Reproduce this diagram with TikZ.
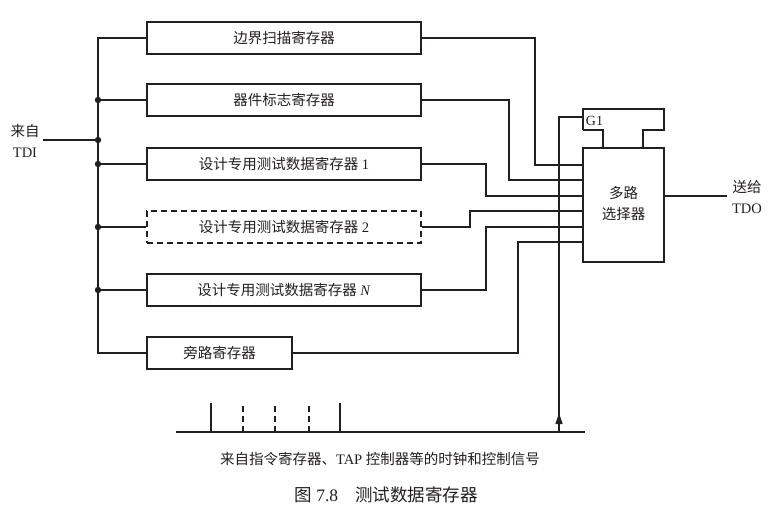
\documentclass[tikz,border=0pt]{standalone}
\usepackage{fontspec}
\setmainfont{Liberation Serif}
\newfontfamily\cjk{Noto Sans CJK SC}
\usetikzlibrary{arrows.meta}
\begin{document}
\begin{tikzpicture}[x=1pt,y=-1pt, line width=1.2pt, color={rgb,255:red,35;green,31;blue,32},
  reg/.style={draw, minimum height=32pt, inner sep=0pt, font=\fontsize{14.5}{17}\selectfont},
  lbl/.style={align=center, inner sep=0pt, font=\fontsize{14.5}{21}\selectfont},
  wire/.style={line width=1.2pt},
  junction/.style={fill}]
\useasboundingbox (0,0) rectangle (773,518);
% registers
\node[reg, minimum width=274pt] (b1) at (284,38) {\cjk 边界扫描寄存器};
\node[reg, minimum width=274pt] (b2) at (284,100) {\cjk 器件标志寄存器};
\node[reg, minimum width=274pt] (b3) at (284,164) {{\cjk 设计专用测试数据寄存器} 1};
\node[reg, minimum width=274pt, dash pattern=on 6pt off 4pt] (b4) at (284,227) {{\cjk 设计专用测试数据寄存器} 2};
\node[reg, minimum width=274pt] (b5) at (284,290) {{\cjk 设计专用测试数据寄存器} \textit{N}};
\node[reg, minimum width=145pt] (b6) at (219.5,353) {\cjk 旁路寄存器};
% TDI bus
\coordinate (bus) at (98,0);
\node[lbl] (tdi) at (25,141) {{\cjk 来自}\\TDI};
\draw[wire] (b1.west) -- (b1.west -| bus) -- (b6.west -| bus) -- (b6.west);
\draw[wire] ([xshift=3pt]tdi.east |- 0,140) -- (bus |- 0,140);
\foreach \b in {b2,b3,b4,b5}{
  \draw[wire] (\b.west) -- (\b.west -| bus);
  \fill[junction] (\b.west -| bus) circle (3.2pt);
}
\fill[junction] (bus |- 0,140) circle (3.2pt);
% multiplexer
\node[draw, minimum width=81pt, minimum height=114pt, inner sep=0pt] (mux) at (623.5,205) {};
\node[lbl] (muxtxt) at (623.5,203) {\cjk 多路\\\cjk 选择器};
\draw[wire] (583,130) -- (583,109) -- (664,109) -- (664,130) -- (643,130) -- (mux.north -| 643,0);
\draw[wire] (583,130) -- (603,130) -- (mux.north -| 603,0);
\node[inner sep=0pt, font=\fontsize{14}{16}\selectfont] (g1) at (594.5,121) {G1};
% mux inputs
\coordinate (in1) at (583,165);
\coordinate (in2) at (583,180);
\coordinate (in3) at (583,196);
\coordinate (in4) at (583,211);
\coordinate (in5) at (583,227);
\coordinate (in6) at (583,242);
\draw[wire] (b1.east) -- (535,38) |- (in1);
\draw[wire] (b2.east) -- (509,100) |- (in2);
\draw[wire] (b3.east) -- (486,164) |- (in3);
\draw[wire] (b4.east) -- (470,227) |- (in4);
\draw[wire] (b5.east) -- (486,290) |- (in5);
\draw[wire] (b6.east) -- (518,353) |- (in6);
% output
\coordinate (out) at (664,196);
\node[lbl] (tdo) at (747,197) {{\cjk 送给}\\TDO};
\draw[wire] (out) -- (727,196);
% control bus
\coordinate (cb1) at (176,432);
\coordinate (cb2) at (585,432);
\draw[line width=2pt] (cb1) -- (cb2);
\coordinate (g1in) at (583,117);
\coordinate (ctl) at (559,432);
\draw[wire] (ctl) -- (ctl |- g1in) -- (g1in);
\draw[wire, -{Triangle[length=11pt,width=7pt]}] (ctl) -- (559,413);
\foreach \x in {211,340}{ \draw[wire] (\x,432) -- (\x,403); }
\foreach \x in {243,275,309}{ \draw[wire, dash pattern=on 6pt off 4pt] (\x,432) -- (\x,403); }
\node[inner sep=0pt, font=\fontsize{14.5}{17}\selectfont] (ctltxt) at (380,459) {{\cjk 来自指令寄存器、}TAP {\cjk 控制器等的时钟和控制信号}};
\node[inner sep=0pt, font=\fontsize{17.5}{20}\selectfont] (cap) at (386,495) {{\cjk 图} 7.8\hspace{17pt}{\cjk 测试数据寄存器}};
\end{tikzpicture}
\end{document}
